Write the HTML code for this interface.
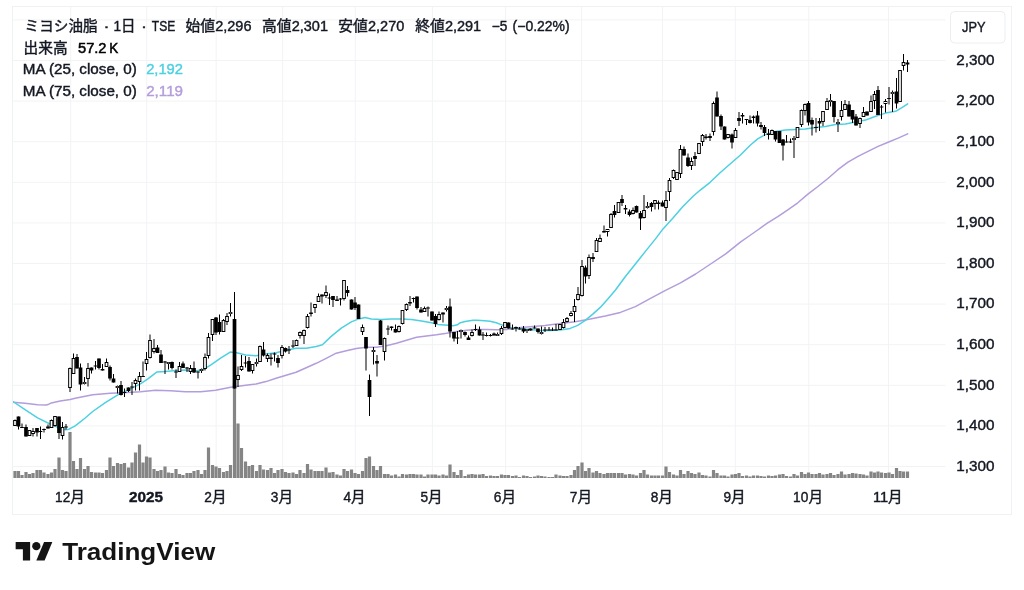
<!DOCTYPE html><html lang="ja"><head><meta charset="utf-8"><title>ミヨシ油脂 · TradingView</title>
<style>html,body{margin:0;padding:0;background:#fff}svg{display:block}text{font-family:"Liberation Sans","Noto Sans CJK JP",sans-serif;fill:#131722;stroke:#131722;stroke-width:.4px;paint-order:stroke}</style></head><body>
<svg width="1024" height="590" viewBox="0 0 1024 590">
<rect width="1024" height="590" fill="#fff"/>
<g stroke="#f2f3f4" stroke-width="1">
<line x1="13" x2="945.5" y1="19.9" y2="19.9"/>
<line x1="13" x2="945.5" y1="60.5" y2="60.5"/>
<line x1="13" x2="945.5" y1="101.1" y2="101.1"/>
<line x1="13" x2="945.5" y1="141.7" y2="141.7"/>
<line x1="13" x2="945.5" y1="182.3" y2="182.3"/>
<line x1="13" x2="945.5" y1="222.9" y2="222.9"/>
<line x1="13" x2="945.5" y1="263.5" y2="263.5"/>
<line x1="13" x2="945.5" y1="304.1" y2="304.1"/>
<line x1="13" x2="945.5" y1="344.7" y2="344.7"/>
<line x1="13" x2="945.5" y1="385.3" y2="385.3"/>
<line x1="13" x2="945.5" y1="425.9" y2="425.9"/>
<line x1="13" x2="945.5" y1="466.5" y2="466.5"/>
<line x1="70.7" x2="70.7" y1="7" y2="478"/>
<line x1="146.7" x2="146.7" y1="7" y2="478"/>
<line x1="216.2" x2="216.2" y1="7" y2="478"/>
<line x1="282.6" x2="282.6" y1="7" y2="478"/>
<line x1="355.3" x2="355.3" y1="7" y2="478"/>
<line x1="432.4" x2="432.4" y1="7" y2="478"/>
<line x1="505.6" x2="505.6" y1="7" y2="478"/>
<line x1="581.6" x2="581.6" y1="7" y2="478"/>
<line x1="662.5" x2="662.5" y1="7" y2="478"/>
<line x1="735.3" x2="735.3" y1="7" y2="478"/>
<line x1="808.8" x2="808.8" y1="7" y2="478"/>
<line x1="888.5" x2="888.5" y1="7" y2="478"/>
</g>
<g fill="#858585">
<rect x="13.40" y="471.0" width="3.2" height="7.0"/>
<rect x="16.90" y="471.0" width="3.2" height="7.0"/>
<rect x="20.40" y="475.0" width="3.2" height="3.0"/>
<rect x="24.40" y="472.0" width="3.2" height="6.0"/>
<rect x="27.90" y="474.0" width="3.2" height="4.0"/>
<rect x="31.40" y="473.0" width="3.2" height="5.0"/>
<rect x="35.40" y="470.0" width="3.2" height="8.0"/>
<rect x="38.90" y="470.0" width="3.2" height="8.0"/>
<rect x="42.40" y="472.5" width="3.2" height="5.5"/>
<rect x="46.40" y="474.0" width="3.2" height="4.0"/>
<rect x="49.90" y="472.5" width="3.2" height="5.5"/>
<rect x="53.40" y="469.0" width="3.2" height="9.0"/>
<rect x="57.40" y="457.5" width="3.2" height="20.5"/>
<rect x="60.90" y="470.0" width="3.2" height="8.0"/>
<rect x="64.40" y="471.0" width="3.2" height="7.0"/>
<rect x="68.40" y="432.0" width="3.2" height="46.0"/>
<rect x="71.90" y="461.0" width="3.2" height="17.0"/>
<rect x="75.40" y="469.0" width="3.2" height="9.0"/>
<rect x="78.90" y="458.0" width="3.2" height="20.0"/>
<rect x="82.90" y="469.0" width="3.2" height="9.0"/>
<rect x="86.40" y="466.0" width="3.2" height="12.0"/>
<rect x="89.90" y="472.0" width="3.2" height="6.0"/>
<rect x="93.90" y="472.5" width="3.2" height="5.5"/>
<rect x="97.40" y="472.5" width="3.2" height="5.5"/>
<rect x="100.90" y="473.0" width="3.2" height="5.0"/>
<rect x="104.90" y="470.0" width="3.2" height="8.0"/>
<rect x="108.40" y="457.5" width="3.2" height="20.5"/>
<rect x="111.90" y="466.0" width="3.2" height="12.0"/>
<rect x="115.90" y="463.0" width="3.2" height="15.0"/>
<rect x="119.40" y="464.0" width="3.2" height="14.0"/>
<rect x="122.90" y="463.0" width="3.2" height="15.0"/>
<rect x="126.90" y="467.5" width="3.2" height="10.5"/>
<rect x="130.40" y="462.5" width="3.2" height="15.5"/>
<rect x="133.90" y="452.5" width="3.2" height="25.5"/>
<rect x="137.90" y="444.5" width="3.2" height="33.5"/>
<rect x="141.40" y="462.5" width="3.2" height="15.5"/>
<rect x="144.90" y="456.5" width="3.2" height="21.5"/>
<rect x="148.40" y="457.5" width="3.2" height="20.5"/>
<rect x="152.40" y="469.0" width="3.2" height="9.0"/>
<rect x="155.90" y="471.0" width="3.2" height="7.0"/>
<rect x="159.40" y="470.0" width="3.2" height="8.0"/>
<rect x="163.40" y="466.5" width="3.2" height="11.5"/>
<rect x="166.90" y="472.5" width="3.2" height="5.5"/>
<rect x="170.40" y="473.0" width="3.2" height="5.0"/>
<rect x="174.40" y="469.0" width="3.2" height="9.0"/>
<rect x="177.90" y="474.0" width="3.2" height="4.0"/>
<rect x="181.40" y="475.0" width="3.2" height="3.0"/>
<rect x="185.40" y="473.0" width="3.2" height="5.0"/>
<rect x="188.90" y="473.0" width="3.2" height="5.0"/>
<rect x="192.40" y="471.0" width="3.2" height="7.0"/>
<rect x="196.40" y="470.0" width="3.2" height="8.0"/>
<rect x="199.90" y="474.0" width="3.2" height="4.0"/>
<rect x="203.40" y="470.0" width="3.2" height="8.0"/>
<rect x="206.90" y="447.5" width="3.2" height="30.5"/>
<rect x="210.90" y="465.0" width="3.2" height="13.0"/>
<rect x="214.40" y="466.5" width="3.2" height="11.5"/>
<rect x="217.90" y="468.0" width="3.2" height="10.0"/>
<rect x="221.90" y="472.0" width="3.2" height="6.0"/>
<rect x="225.40" y="471.0" width="3.2" height="7.0"/>
<rect x="228.90" y="465.0" width="3.2" height="13.0"/>
<rect x="232.90" y="383.0" width="3.2" height="95.0"/>
<rect x="236.40" y="423.5" width="3.2" height="54.5"/>
<rect x="239.90" y="448.0" width="3.2" height="30.0"/>
<rect x="243.90" y="461.5" width="3.2" height="16.5"/>
<rect x="247.40" y="466.0" width="3.2" height="12.0"/>
<rect x="250.90" y="465.0" width="3.2" height="13.0"/>
<rect x="254.90" y="471.0" width="3.2" height="7.0"/>
<rect x="258.40" y="465.0" width="3.2" height="13.0"/>
<rect x="261.90" y="469.5" width="3.2" height="8.5"/>
<rect x="265.90" y="470.0" width="3.2" height="8.0"/>
<rect x="269.40" y="468.0" width="3.2" height="10.0"/>
<rect x="272.90" y="473.0" width="3.2" height="5.0"/>
<rect x="276.40" y="470.0" width="3.2" height="8.0"/>
<rect x="280.40" y="469.0" width="3.2" height="9.0"/>
<rect x="283.90" y="472.0" width="3.2" height="6.0"/>
<rect x="287.40" y="473.0" width="3.2" height="5.0"/>
<rect x="291.40" y="472.5" width="3.2" height="5.5"/>
<rect x="294.90" y="474.0" width="3.2" height="4.0"/>
<rect x="298.40" y="470.0" width="3.2" height="8.0"/>
<rect x="302.40" y="473.0" width="3.2" height="5.0"/>
<rect x="305.90" y="464.0" width="3.2" height="14.0"/>
<rect x="309.40" y="469.5" width="3.2" height="8.5"/>
<rect x="313.40" y="471.0" width="3.2" height="7.0"/>
<rect x="316.90" y="471.0" width="3.2" height="7.0"/>
<rect x="320.40" y="471.0" width="3.2" height="7.0"/>
<rect x="324.40" y="467.5" width="3.2" height="10.5"/>
<rect x="327.90" y="472.5" width="3.2" height="5.5"/>
<rect x="331.40" y="472.0" width="3.2" height="6.0"/>
<rect x="335.40" y="474.5" width="3.2" height="3.5"/>
<rect x="338.90" y="475.5" width="3.2" height="2.5"/>
<rect x="342.40" y="469.0" width="3.2" height="9.0"/>
<rect x="345.90" y="471.0" width="3.2" height="7.0"/>
<rect x="349.90" y="469.5" width="3.2" height="8.5"/>
<rect x="353.40" y="473.0" width="3.2" height="5.0"/>
<rect x="356.90" y="474.0" width="3.2" height="4.0"/>
<rect x="360.90" y="471.0" width="3.2" height="7.0"/>
<rect x="364.40" y="458.0" width="3.2" height="20.0"/>
<rect x="367.90" y="456.5" width="3.2" height="21.5"/>
<rect x="371.90" y="466.0" width="3.2" height="12.0"/>
<rect x="375.40" y="470.0" width="3.2" height="8.0"/>
<rect x="378.90" y="466.0" width="3.2" height="12.0"/>
<rect x="382.90" y="474.0" width="3.2" height="4.0"/>
<rect x="386.40" y="474.0" width="3.2" height="4.0"/>
<rect x="389.90" y="475.5" width="3.2" height="2.5"/>
<rect x="393.90" y="474.5" width="3.2" height="3.5"/>
<rect x="397.40" y="476.5" width="3.2" height="1.5"/>
<rect x="400.90" y="474.0" width="3.2" height="4.0"/>
<rect x="404.90" y="474.5" width="3.2" height="3.5"/>
<rect x="408.40" y="474.0" width="3.2" height="4.0"/>
<rect x="411.90" y="474.0" width="3.2" height="4.0"/>
<rect x="415.40" y="474.5" width="3.2" height="3.5"/>
<rect x="419.40" y="474.5" width="3.2" height="3.5"/>
<rect x="422.90" y="476.5" width="3.2" height="1.5"/>
<rect x="426.40" y="474.5" width="3.2" height="3.5"/>
<rect x="430.40" y="474.5" width="3.2" height="3.5"/>
<rect x="433.90" y="474.5" width="3.2" height="3.5"/>
<rect x="437.40" y="475.5" width="3.2" height="2.5"/>
<rect x="441.40" y="474.5" width="3.2" height="3.5"/>
<rect x="444.90" y="475.5" width="3.2" height="2.5"/>
<rect x="448.40" y="464.5" width="3.2" height="13.5"/>
<rect x="452.40" y="472.0" width="3.2" height="6.0"/>
<rect x="455.90" y="475.0" width="3.2" height="3.0"/>
<rect x="459.40" y="470.0" width="3.2" height="8.0"/>
<rect x="463.40" y="476.0" width="3.2" height="2.0"/>
<rect x="466.90" y="474.5" width="3.2" height="3.5"/>
<rect x="470.40" y="474.0" width="3.2" height="4.0"/>
<rect x="473.90" y="474.5" width="3.2" height="3.5"/>
<rect x="477.90" y="474.5" width="3.2" height="3.5"/>
<rect x="481.40" y="474.0" width="3.2" height="4.0"/>
<rect x="484.90" y="476.0" width="3.2" height="2.0"/>
<rect x="488.90" y="475.5" width="3.2" height="2.5"/>
<rect x="492.40" y="476.0" width="3.2" height="2.0"/>
<rect x="495.90" y="476.0" width="3.2" height="2.0"/>
<rect x="499.90" y="474.5" width="3.2" height="3.5"/>
<rect x="503.40" y="475.0" width="3.2" height="3.0"/>
<rect x="506.90" y="475.0" width="3.2" height="3.0"/>
<rect x="510.90" y="476.0" width="3.2" height="2.0"/>
<rect x="514.40" y="475.5" width="3.2" height="2.5"/>
<rect x="517.90" y="477.0" width="3.2" height="1.0"/>
<rect x="521.90" y="475.5" width="3.2" height="2.5"/>
<rect x="525.40" y="476.0" width="3.2" height="2.0"/>
<rect x="528.90" y="477.0" width="3.2" height="1.0"/>
<rect x="532.90" y="476.5" width="3.2" height="1.5"/>
<rect x="536.40" y="475.5" width="3.2" height="2.5"/>
<rect x="539.90" y="476.0" width="3.2" height="2.0"/>
<rect x="543.40" y="476.5" width="3.2" height="1.5"/>
<rect x="547.40" y="477.0" width="3.2" height="1.0"/>
<rect x="550.90" y="477.0" width="3.2" height="1.0"/>
<rect x="554.40" y="474.5" width="3.2" height="3.5"/>
<rect x="558.40" y="475.5" width="3.2" height="2.5"/>
<rect x="561.90" y="476.0" width="3.2" height="2.0"/>
<rect x="565.40" y="476.0" width="3.2" height="2.0"/>
<rect x="569.40" y="475.0" width="3.2" height="3.0"/>
<rect x="572.90" y="470.0" width="3.2" height="8.0"/>
<rect x="576.40" y="466.0" width="3.2" height="12.0"/>
<rect x="580.40" y="462.5" width="3.2" height="15.5"/>
<rect x="583.90" y="471.0" width="3.2" height="7.0"/>
<rect x="587.40" y="468.0" width="3.2" height="10.0"/>
<rect x="591.40" y="472.5" width="3.2" height="5.5"/>
<rect x="594.90" y="471.0" width="3.2" height="7.0"/>
<rect x="598.40" y="473.0" width="3.2" height="5.0"/>
<rect x="602.40" y="474.0" width="3.2" height="4.0"/>
<rect x="605.90" y="473.0" width="3.2" height="5.0"/>
<rect x="609.40" y="473.0" width="3.2" height="5.0"/>
<rect x="612.90" y="473.0" width="3.2" height="5.0"/>
<rect x="616.90" y="473.0" width="3.2" height="5.0"/>
<rect x="620.40" y="473.0" width="3.2" height="5.0"/>
<rect x="623.90" y="474.5" width="3.2" height="3.5"/>
<rect x="627.90" y="474.0" width="3.2" height="4.0"/>
<rect x="631.40" y="474.5" width="3.2" height="3.5"/>
<rect x="634.90" y="475.5" width="3.2" height="2.5"/>
<rect x="638.90" y="473.0" width="3.2" height="5.0"/>
<rect x="642.40" y="470.0" width="3.2" height="8.0"/>
<rect x="645.90" y="474.5" width="3.2" height="3.5"/>
<rect x="649.90" y="475.5" width="3.2" height="2.5"/>
<rect x="653.40" y="475.5" width="3.2" height="2.5"/>
<rect x="656.90" y="475.5" width="3.2" height="2.5"/>
<rect x="660.90" y="475.5" width="3.2" height="2.5"/>
<rect x="664.40" y="466.5" width="3.2" height="11.5"/>
<rect x="667.90" y="472.0" width="3.2" height="6.0"/>
<rect x="671.90" y="474.5" width="3.2" height="3.5"/>
<rect x="675.40" y="475.5" width="3.2" height="2.5"/>
<rect x="678.90" y="470.0" width="3.2" height="8.0"/>
<rect x="682.40" y="474.0" width="3.2" height="4.0"/>
<rect x="686.40" y="471.0" width="3.2" height="7.0"/>
<rect x="689.90" y="473.0" width="3.2" height="5.0"/>
<rect x="693.40" y="474.0" width="3.2" height="4.0"/>
<rect x="697.40" y="472.5" width="3.2" height="5.5"/>
<rect x="700.90" y="475.0" width="3.2" height="3.0"/>
<rect x="704.40" y="475.5" width="3.2" height="2.5"/>
<rect x="708.40" y="476.5" width="3.2" height="1.5"/>
<rect x="711.90" y="470.0" width="3.2" height="8.0"/>
<rect x="715.40" y="473.0" width="3.2" height="5.0"/>
<rect x="719.40" y="475.5" width="3.2" height="2.5"/>
<rect x="722.90" y="475.5" width="3.2" height="2.5"/>
<rect x="726.40" y="476.5" width="3.2" height="1.5"/>
<rect x="730.40" y="474.5" width="3.2" height="3.5"/>
<rect x="733.90" y="474.0" width="3.2" height="4.0"/>
<rect x="737.40" y="473.0" width="3.2" height="5.0"/>
<rect x="740.90" y="476.0" width="3.2" height="2.0"/>
<rect x="744.90" y="475.5" width="3.2" height="2.5"/>
<rect x="748.40" y="476.5" width="3.2" height="1.5"/>
<rect x="751.90" y="475.5" width="3.2" height="2.5"/>
<rect x="755.90" y="475.5" width="3.2" height="2.5"/>
<rect x="759.40" y="476.0" width="3.2" height="2.0"/>
<rect x="762.90" y="476.5" width="3.2" height="1.5"/>
<rect x="766.90" y="475.5" width="3.2" height="2.5"/>
<rect x="770.40" y="476.0" width="3.2" height="2.0"/>
<rect x="773.90" y="475.5" width="3.2" height="2.5"/>
<rect x="777.90" y="474.5" width="3.2" height="3.5"/>
<rect x="781.40" y="474.0" width="3.2" height="4.0"/>
<rect x="784.90" y="476.0" width="3.2" height="2.0"/>
<rect x="788.90" y="476.5" width="3.2" height="1.5"/>
<rect x="792.40" y="474.0" width="3.2" height="4.0"/>
<rect x="795.90" y="475.5" width="3.2" height="2.5"/>
<rect x="799.90" y="472.0" width="3.2" height="6.0"/>
<rect x="803.40" y="474.0" width="3.2" height="4.0"/>
<rect x="806.90" y="472.5" width="3.2" height="5.5"/>
<rect x="810.40" y="474.0" width="3.2" height="4.0"/>
<rect x="814.40" y="474.0" width="3.2" height="4.0"/>
<rect x="817.90" y="473.0" width="3.2" height="5.0"/>
<rect x="821.40" y="474.5" width="3.2" height="3.5"/>
<rect x="825.40" y="474.0" width="3.2" height="4.0"/>
<rect x="828.90" y="473.0" width="3.2" height="5.0"/>
<rect x="832.40" y="475.0" width="3.2" height="3.0"/>
<rect x="836.40" y="474.0" width="3.2" height="4.0"/>
<rect x="839.90" y="471.5" width="3.2" height="6.5"/>
<rect x="843.40" y="474.5" width="3.2" height="3.5"/>
<rect x="847.40" y="474.0" width="3.2" height="4.0"/>
<rect x="850.90" y="473.0" width="3.2" height="5.0"/>
<rect x="854.40" y="473.5" width="3.2" height="4.5"/>
<rect x="858.40" y="474.0" width="3.2" height="4.0"/>
<rect x="861.90" y="474.5" width="3.2" height="3.5"/>
<rect x="865.40" y="475.5" width="3.2" height="2.5"/>
<rect x="869.40" y="471.5" width="3.2" height="6.5"/>
<rect x="872.90" y="472.5" width="3.2" height="5.5"/>
<rect x="876.40" y="471.5" width="3.2" height="6.5"/>
<rect x="879.90" y="472.5" width="3.2" height="5.5"/>
<rect x="883.90" y="473.0" width="3.2" height="5.0"/>
<rect x="887.40" y="472.5" width="3.2" height="5.5"/>
<rect x="890.90" y="474.0" width="3.2" height="4.0"/>
<rect x="894.90" y="468.0" width="3.2" height="10.0"/>
<rect x="898.40" y="471.0" width="3.2" height="7.0"/>
<rect x="901.90" y="471.5" width="3.2" height="6.5"/>
<rect x="905.90" y="471.5" width="3.2" height="6.5"/>
</g>
<polyline fill="none" stroke="#b39ddb" stroke-width="1.5" stroke-linejoin="round" stroke-linecap="round" points="13.0,402.2 25.0,403.2 37.6,404.7 46.3,405.0 48.8,404.2 51.4,402.9 60.2,401.0 70.2,399.4 75.2,398.2 92.7,394.7 110.3,393.2 122.8,392.7 140.4,391.7 155.4,390.2 170.5,390.7 185.5,391.7 200.6,391.7 215.6,390.2 230.7,387.2 245.7,385.2 256.0,384.0 266.0,381.6 276.1,378.3 286.1,375.3 296.1,372.3 306.2,367.8 316.2,363.3 326.2,358.3 336.2,353.2 346.3,350.7 356.3,348.5 366.3,347.2 376.4,347.2 386.4,345.7 396.4,343.2 406.5,340.2 416.5,337.2 426.5,335.9 436.5,334.7 446.6,333.2 456.6,331.4 466.6,330.2 476.7,329.4 486.7,329.4 496.7,329.7 506.8,329.4 515.0,327.9 530.1,326.7 545.1,325.4 560.2,323.4 575.2,321.7 590.3,319.1 605.3,316.1 620.4,312.4 635.4,306.6 650.5,298.3 665.5,290.3 680.5,282.8 695.6,274.0 710.6,264.0 725.7,253.9 740.7,241.9 747.7,237.0 757.7,230.0 767.7,222.9 777.8,216.6 787.8,209.9 797.8,202.8 807.9,194.1 817.9,186.5 827.9,178.5 837.9,169.7 848.0,162.2 858.0,156.4 868.0,151.4 878.1,146.4 888.1,142.2 898.1,138.1 907.7,133.9"/>
<polyline fill="none" stroke="#4dd0e1" stroke-width="1.5" stroke-linejoin="round" stroke-linecap="round" points="13.0,401.5 25.0,409.7 37.6,417.8 50.1,424.0 60.2,428.3 65.5,429.8 69.0,429.2 75.2,425.8 85.2,418.0 92.7,411.5 105.3,402.7 117.8,394.9 130.4,388.9 140.4,383.9 147.9,378.9 156.7,372.1 165.5,371.4 175.5,370.6 185.5,370.1 195.6,370.9 203.1,369.6 210.6,365.1 220.6,358.1 230.2,352.1 235.7,352.6 245.7,355.1 256.0,355.8 266.0,354.0 276.1,352.7 286.1,350.2 296.1,348.2 306.2,348.2 316.2,346.5 322.4,344.7 331.2,336.4 341.3,328.2 351.3,321.9 358.8,318.9 365.1,317.6 371.3,318.9 381.4,319.6 391.4,318.9 401.4,318.9 411.5,319.4 421.5,320.9 431.5,322.7 437.7,324.4 447.9,325.2 453.3,325.8 457.2,324.8 460.4,322.7 465.1,321.5 472.9,320.3 476.8,320.2 484.6,320.7 490.1,321.2 496.3,322.8 501.0,324.6 504.1,325.8 510.0,327.4 520.1,328.4 530.1,329.4 540.1,330.4 550.2,330.4 560.2,329.9 570.2,328.4 577.7,325.4 585.3,320.4 592.8,314.1 600.3,307.4 607.8,299.1 615.3,290.3 625.4,276.5 635.4,264.0 645.4,251.4 655.5,238.9 663.0,228.9 673.0,218.1 683.1,206.3 693.1,196.3 700.0,190.3 710.1,182.3 720.1,172.7 730.1,164.0 740.2,155.2 750.2,145.2 757.7,138.9 765.2,134.6 775.3,131.4 785.3,130.1 795.3,129.6 805.3,128.9 815.4,127.6 825.4,126.4 835.4,124.6 845.5,123.9 855.5,122.1 865.5,120.1 875.6,116.3 885.6,113.1 895.6,111.3 901.9,107.6 907.7,103.8"/>
<g>
<rect x="14.50" y="419.5" width="1" height="0.5"/>
<rect x="13.65" y="420.5" width="2.7" height="5.0" fill="#fff" stroke="#000"/>
<rect x="18.00" y="416.5" width="1" height="13.0"/>
<rect x="16.65" y="416.5" width="3.7" height="10.0"/>
<rect x="21.50" y="423.5" width="1" height="4.5"/>
<rect x="20.15" y="427.0" width="3.7" height="1.0"/>
<rect x="25.50" y="424.5" width="1" height="12.0"/>
<rect x="24.15" y="427.0" width="3.7" height="9.5"/>
<rect x="28.15" y="430.5" width="2.7" height="5.0" fill="#fff" stroke="#000"/>
<rect x="32.50" y="428.0" width="1" height="3.0"/>
<rect x="32.50" y="434.0" width="1" height="2.5"/>
<rect x="31.65" y="431.5" width="2.7" height="2.0" fill="#fff" stroke="#000"/>
<rect x="36.50" y="428.0" width="1" height="8.5"/>
<rect x="35.15" y="428.0" width="3.7" height="4.5"/>
<rect x="40.00" y="426.5" width="1" height="4.5"/>
<rect x="40.00" y="432.0" width="1" height="7.0"/>
<rect x="38.65" y="431.0" width="3.7" height="1.0"/>
<rect x="43.50" y="428.5" width="1" height="0.5"/>
<rect x="43.50" y="430.0" width="1" height="2.5"/>
<rect x="42.15" y="429.0" width="3.7" height="1.0"/>
<rect x="47.50" y="424.5" width="1" height="4.0"/>
<rect x="46.15" y="426.5" width="3.7" height="2.0"/>
<rect x="51.00" y="419.5" width="1" height="0.5"/>
<rect x="50.15" y="420.5" width="2.7" height="7.0" fill="#fff" stroke="#000"/>
<rect x="54.50" y="426.0" width="1" height="0.5"/>
<rect x="53.65" y="416.5" width="2.7" height="9.0" fill="#fff" stroke="#000"/>
<rect x="58.50" y="416.5" width="1" height="22.5"/>
<rect x="57.15" y="416.5" width="3.7" height="16.5"/>
<rect x="62.00" y="422.0" width="1" height="5.0"/>
<rect x="62.00" y="436.0" width="1" height="3.5"/>
<rect x="61.15" y="427.5" width="2.7" height="8.0" fill="#fff" stroke="#000"/>
<rect x="65.50" y="424.0" width="1" height="5.5"/>
<rect x="64.15" y="426.5" width="3.7" height="1.0"/>
<rect x="69.50" y="367.5" width="1" height="0.5"/>
<rect x="69.50" y="388.0" width="1" height="4.0"/>
<rect x="68.65" y="368.5" width="2.7" height="19.0" fill="#fff" stroke="#000"/>
<rect x="73.00" y="353.5" width="1" height="4.5"/>
<rect x="72.15" y="358.5" width="2.7" height="15.0" fill="#fff" stroke="#000"/>
<rect x="76.50" y="354.0" width="1" height="14.5"/>
<rect x="75.15" y="357.0" width="3.7" height="11.5"/>
<rect x="80.00" y="363.5" width="1" height="27.0"/>
<rect x="78.65" y="367.5" width="3.7" height="17.0"/>
<rect x="84.00" y="377.0" width="1" height="5.0"/>
<rect x="84.00" y="384.0" width="1" height="0.5"/>
<rect x="82.65" y="382.0" width="3.7" height="2"/>
<rect x="83.65" y="382.5" width="1.7" height="1" fill="#aaa"/>
<rect x="87.50" y="363.0" width="1" height="5.0"/>
<rect x="87.50" y="379.0" width="1" height="7.5"/>
<rect x="86.65" y="368.5" width="2.7" height="10.0" fill="#fff" stroke="#000"/>
<rect x="91.00" y="367.5" width="1" height="6.0"/>
<rect x="89.65" y="367.5" width="3.7" height="3.0"/>
<rect x="95.00" y="361.0" width="1" height="8.5"/>
<rect x="93.65" y="365.5" width="3.7" height="1.0"/>
<rect x="98.50" y="358.5" width="1" height="11.0"/>
<rect x="97.15" y="358.5" width="3.7" height="9.5"/>
<rect x="102.00" y="364.0" width="1" height="6.5"/>
<rect x="100.65" y="369.0" width="3.7" height="1.5"/>
<rect x="106.00" y="358.5" width="1" height="3.5"/>
<rect x="105.15" y="362.5" width="2.7" height="4.0" fill="#fff" stroke="#000"/>
<rect x="109.50" y="365.5" width="1" height="15.0"/>
<rect x="108.15" y="367.0" width="3.7" height="11.5"/>
<rect x="113.00" y="374.0" width="1" height="8.5"/>
<rect x="111.65" y="378.5" width="3.7" height="4.0"/>
<rect x="117.00" y="385.5" width="1" height="0.5"/>
<rect x="117.00" y="388.0" width="1" height="5.5"/>
<rect x="115.65" y="386.0" width="3.7" height="2"/>
<rect x="116.65" y="386.5" width="1.7" height="1" fill="#aaa"/>
<rect x="120.50" y="381.0" width="1" height="14.5"/>
<rect x="119.15" y="385.0" width="3.7" height="10.0"/>
<rect x="124.00" y="388.5" width="1" height="8.5"/>
<rect x="122.65" y="392.0" width="3.7" height="1.0"/>
<rect x="128.00" y="387.5" width="1" height="4.5"/>
<rect x="126.65" y="387.5" width="3.7" height="3.5"/>
<rect x="131.50" y="382.0" width="1" height="13.0"/>
<rect x="130.15" y="386.5" width="3.7" height="1.0"/>
<rect x="135.00" y="378.5" width="1" height="1.5"/>
<rect x="135.00" y="384.0" width="1" height="6.5"/>
<rect x="134.15" y="380.5" width="2.7" height="3.0" fill="#fff" stroke="#000"/>
<rect x="139.00" y="372.0" width="1" height="4.0"/>
<rect x="139.00" y="382.0" width="1" height="8.5"/>
<rect x="138.15" y="376.5" width="2.7" height="5.0" fill="#fff" stroke="#000"/>
<rect x="142.50" y="361.5" width="1" height="14.5"/>
<rect x="141.15" y="376.0" width="3.7" height="1.0"/>
<rect x="146.00" y="352.0" width="1" height="7.0"/>
<rect x="146.00" y="364.0" width="1" height="6.5"/>
<rect x="145.15" y="359.5" width="2.7" height="4.0" fill="#fff" stroke="#000"/>
<rect x="149.50" y="334.5" width="1" height="5.5"/>
<rect x="149.50" y="358.0" width="1" height="0.5"/>
<rect x="148.65" y="340.5" width="2.7" height="17.0" fill="#fff" stroke="#000"/>
<rect x="153.50" y="339.0" width="1" height="9.0"/>
<rect x="153.50" y="352.0" width="1" height="1.5"/>
<rect x="152.65" y="348.5" width="2.7" height="3.0" fill="#fff" stroke="#000"/>
<rect x="157.00" y="345.0" width="1" height="8.0"/>
<rect x="155.65" y="347.5" width="3.7" height="5.5"/>
<rect x="160.50" y="350.0" width="1" height="13.0"/>
<rect x="159.15" y="354.5" width="3.7" height="8.5"/>
<rect x="164.50" y="361.0" width="1" height="13.0"/>
<rect x="163.15" y="361.5" width="3.7" height="1.0"/>
<rect x="168.00" y="364.0" width="1" height="5.5"/>
<rect x="166.65" y="362.0" width="3.7" height="2"/>
<rect x="167.65" y="362.5" width="1.7" height="1" fill="#aaa"/>
<rect x="171.50" y="361.5" width="1" height="8.0"/>
<rect x="170.15" y="362.0" width="3.7" height="6.0"/>
<rect x="175.50" y="369.5" width="1" height="8.5"/>
<rect x="174.15" y="371.5" width="3.7" height="1.0"/>
<rect x="179.00" y="362.0" width="1" height="4.0"/>
<rect x="178.15" y="366.5" width="2.7" height="5.0" fill="#fff" stroke="#000"/>
<rect x="182.50" y="361.5" width="1" height="6.5"/>
<rect x="181.15" y="363.5" width="3.7" height="4.5"/>
<rect x="186.50" y="367.0" width="1" height="5.0"/>
<rect x="185.15" y="367.5" width="3.7" height="1.0"/>
<rect x="190.00" y="365.0" width="1" height="3.0"/>
<rect x="190.00" y="372.0" width="1" height="2.0"/>
<rect x="189.15" y="368.5" width="2.7" height="3.0" fill="#fff" stroke="#000"/>
<rect x="193.50" y="361.5" width="1" height="11.5"/>
<rect x="192.15" y="368.0" width="3.7" height="4.5"/>
<rect x="197.50" y="371.5" width="1" height="7.0"/>
<rect x="196.15" y="371.5" width="3.7" height="1.0"/>
<rect x="201.00" y="368.5" width="1" height="0.5"/>
<rect x="201.00" y="371.0" width="1" height="2.0"/>
<rect x="199.65" y="369.0" width="3.7" height="2"/>
<rect x="200.65" y="369.5" width="1.7" height="1" fill="#aaa"/>
<rect x="204.50" y="353.5" width="1" height="3.5"/>
<rect x="204.50" y="369.0" width="1" height="1.5"/>
<rect x="203.65" y="357.5" width="2.7" height="11.0" fill="#fff" stroke="#000"/>
<rect x="208.00" y="333.0" width="1" height="4.0"/>
<rect x="208.00" y="356.0" width="1" height="2.5"/>
<rect x="207.15" y="337.5" width="2.7" height="18.0" fill="#fff" stroke="#000"/>
<rect x="212.00" y="335.0" width="1" height="6.0"/>
<rect x="211.15" y="319.5" width="2.7" height="15.0" fill="#fff" stroke="#000"/>
<rect x="215.50" y="317.0" width="1" height="18.0"/>
<rect x="214.15" y="317.5" width="3.7" height="15.0"/>
<rect x="219.00" y="314.5" width="1" height="20.0"/>
<rect x="217.65" y="322.0" width="3.7" height="10.0"/>
<rect x="223.00" y="319.0" width="1" height="1.0"/>
<rect x="222.15" y="320.5" width="2.7" height="11.0" fill="#fff" stroke="#000"/>
<rect x="226.50" y="313.0" width="1" height="3.0"/>
<rect x="226.50" y="322.0" width="1" height="3.0"/>
<rect x="225.65" y="316.5" width="2.7" height="5.0" fill="#fff" stroke="#000"/>
<rect x="230.00" y="303.0" width="1" height="9.0"/>
<rect x="230.00" y="314.0" width="1" height="2.5"/>
<rect x="228.65" y="312.0" width="3.7" height="2"/>
<rect x="229.65" y="312.5" width="1.7" height="1" fill="#aaa"/>
<rect x="234.00" y="292.0" width="1" height="96.5"/>
<rect x="232.65" y="319.0" width="3.7" height="69.5"/>
<rect x="237.50" y="366.5" width="1" height="8.5"/>
<rect x="237.50" y="380.0" width="1" height="7.0"/>
<rect x="236.65" y="375.5" width="2.7" height="4.0" fill="#fff" stroke="#000"/>
<rect x="241.00" y="355.0" width="1" height="11.0"/>
<rect x="241.00" y="370.0" width="1" height="1.0"/>
<rect x="240.15" y="366.5" width="2.7" height="3.0" fill="#fff" stroke="#000"/>
<rect x="245.00" y="356.0" width="1" height="11.5"/>
<rect x="243.65" y="362.5" width="3.7" height="1.0"/>
<rect x="248.50" y="357.0" width="1" height="14.5"/>
<rect x="247.15" y="361.0" width="3.7" height="10.5"/>
<rect x="252.00" y="371.0" width="1" height="2.5"/>
<rect x="251.15" y="364.5" width="2.7" height="6.0" fill="#fff" stroke="#000"/>
<rect x="256.00" y="358.5" width="1" height="3.5"/>
<rect x="256.00" y="364.0" width="1" height="2.5"/>
<rect x="254.65" y="362.0" width="3.7" height="2"/>
<rect x="255.65" y="362.5" width="1.7" height="1" fill="#aaa"/>
<rect x="259.50" y="345.5" width="1" height="0.5"/>
<rect x="258.65" y="346.5" width="2.7" height="15.0" fill="#fff" stroke="#000"/>
<rect x="263.00" y="342.0" width="1" height="14.5"/>
<rect x="261.65" y="349.5" width="3.7" height="6.0"/>
<rect x="267.00" y="353.5" width="1" height="1.5"/>
<rect x="267.00" y="359.0" width="1" height="3.0"/>
<rect x="266.15" y="355.5" width="2.7" height="3.0" fill="#fff" stroke="#000"/>
<rect x="270.50" y="353.5" width="1" height="12.0"/>
<rect x="269.15" y="357.5" width="3.7" height="1.5"/>
<rect x="274.00" y="352.5" width="1" height="9.0"/>
<rect x="272.65" y="353.5" width="3.7" height="1.0"/>
<rect x="277.50" y="355.0" width="1" height="12.5"/>
<rect x="276.15" y="358.0" width="3.7" height="5.0"/>
<rect x="281.50" y="345.0" width="1" height="2.0"/>
<rect x="281.50" y="356.0" width="1" height="2.5"/>
<rect x="280.65" y="347.5" width="2.7" height="8.0" fill="#fff" stroke="#000"/>
<rect x="285.00" y="347.5" width="1" height="5.0"/>
<rect x="283.65" y="348.0" width="3.7" height="3.5"/>
<rect x="288.50" y="346.0" width="1" height="8.0"/>
<rect x="287.15" y="349.5" width="3.7" height="1.0"/>
<rect x="292.50" y="340.0" width="1" height="8.0"/>
<rect x="291.15" y="345.5" width="3.7" height="1.0"/>
<rect x="296.00" y="339.5" width="1" height="0.5"/>
<rect x="295.15" y="340.5" width="2.7" height="5.0" fill="#fff" stroke="#000"/>
<rect x="299.50" y="331.5" width="1" height="0.5"/>
<rect x="299.50" y="336.0" width="1" height="2.5"/>
<rect x="298.65" y="332.5" width="2.7" height="3.0" fill="#fff" stroke="#000"/>
<rect x="303.50" y="329.5" width="1" height="0.5"/>
<rect x="303.50" y="336.0" width="1" height="8.0"/>
<rect x="302.65" y="330.5" width="2.7" height="5.0" fill="#fff" stroke="#000"/>
<rect x="307.00" y="314.0" width="1" height="2.0"/>
<rect x="307.00" y="328.0" width="1" height="0.5"/>
<rect x="306.15" y="316.5" width="2.7" height="11.0" fill="#fff" stroke="#000"/>
<rect x="310.50" y="302.5" width="1" height="14.0"/>
<rect x="309.15" y="312.5" width="3.7" height="1.5"/>
<rect x="314.50" y="308.0" width="1" height="5.0"/>
<rect x="313.65" y="304.5" width="2.7" height="3.0" fill="#fff" stroke="#000"/>
<rect x="318.00" y="293.5" width="1" height="2.5"/>
<rect x="317.15" y="296.5" width="2.7" height="5.0" fill="#fff" stroke="#000"/>
<rect x="321.50" y="294.5" width="1" height="9.0"/>
<rect x="320.15" y="294.5" width="3.7" height="2.0"/>
<rect x="325.50" y="285.5" width="1" height="6.5"/>
<rect x="325.50" y="296.0" width="1" height="2.0"/>
<rect x="324.65" y="292.5" width="2.7" height="3.0" fill="#fff" stroke="#000"/>
<rect x="329.00" y="293.5" width="1" height="11.5"/>
<rect x="327.65" y="297.5" width="3.7" height="1.0"/>
<rect x="332.50" y="296.0" width="1" height="11.0"/>
<rect x="331.15" y="296.0" width="3.7" height="4.0"/>
<rect x="336.50" y="296.0" width="1" height="5.0"/>
<rect x="335.15" y="299.5" width="3.7" height="1.5"/>
<rect x="340.00" y="298.0" width="1" height="7.5"/>
<rect x="338.65" y="298.5" width="3.7" height="1.0"/>
<rect x="343.50" y="299.0" width="1" height="1.5"/>
<rect x="342.65" y="280.5" width="2.7" height="18.0" fill="#fff" stroke="#000"/>
<rect x="347.00" y="286.0" width="1" height="10.5"/>
<rect x="345.65" y="290.0" width="3.7" height="3.0"/>
<rect x="351.00" y="299.5" width="1" height="10.0"/>
<rect x="349.65" y="299.5" width="3.7" height="10.0"/>
<rect x="354.50" y="297.0" width="1" height="13.0"/>
<rect x="353.15" y="302.5" width="3.7" height="5.5"/>
<rect x="358.00" y="304.5" width="1" height="14.5"/>
<rect x="356.65" y="304.5" width="3.7" height="14.5"/>
<rect x="362.00" y="324.5" width="1" height="2.5"/>
<rect x="362.00" y="332.0" width="1" height="3.0"/>
<rect x="361.15" y="327.5" width="2.7" height="4.0" fill="#fff" stroke="#000"/>
<rect x="365.50" y="337.0" width="1" height="33.5"/>
<rect x="364.15" y="337.0" width="3.7" height="11.5"/>
<rect x="369.00" y="374.5" width="1" height="41.5"/>
<rect x="367.65" y="380.0" width="3.7" height="17.0"/>
<rect x="373.00" y="347.0" width="1" height="3.0"/>
<rect x="373.00" y="352.0" width="1" height="12.5"/>
<rect x="371.65" y="350.0" width="3.7" height="2"/>
<rect x="372.65" y="350.5" width="1.7" height="1" fill="#aaa"/>
<rect x="376.50" y="355.0" width="1" height="21.5"/>
<rect x="375.15" y="361.0" width="3.7" height="2.5"/>
<rect x="380.00" y="320.0" width="1" height="25.0"/>
<rect x="378.65" y="320.5" width="3.7" height="24.5"/>
<rect x="384.00" y="337.5" width="1" height="0.5"/>
<rect x="384.00" y="352.0" width="1" height="8.5"/>
<rect x="383.15" y="338.5" width="2.7" height="13.0" fill="#fff" stroke="#000"/>
<rect x="387.50" y="325.5" width="1" height="9.5"/>
<rect x="386.15" y="328.5" width="3.7" height="1.0"/>
<rect x="391.00" y="326.5" width="1" height="4.0"/>
<rect x="389.65" y="326.5" width="3.7" height="1.5"/>
<rect x="395.00" y="324.5" width="1" height="8.0"/>
<rect x="393.65" y="329.0" width="3.7" height="3.5"/>
<rect x="398.50" y="325.5" width="1" height="0.5"/>
<rect x="398.50" y="332.0" width="1" height="0.5"/>
<rect x="397.65" y="326.5" width="2.7" height="5.0" fill="#fff" stroke="#000"/>
<rect x="402.00" y="324.0" width="1" height="0.5"/>
<rect x="401.15" y="310.5" width="2.7" height="13.0" fill="#fff" stroke="#000"/>
<rect x="406.00" y="303.5" width="1" height="0.5"/>
<rect x="406.00" y="310.0" width="1" height="1.0"/>
<rect x="405.15" y="304.5" width="2.7" height="5.0" fill="#fff" stroke="#000"/>
<rect x="409.50" y="296.0" width="1" height="10.0"/>
<rect x="408.15" y="302.0" width="3.7" height="1.5"/>
<rect x="413.00" y="297.5" width="1" height="0.5"/>
<rect x="413.00" y="299.0" width="1" height="3.5"/>
<rect x="411.65" y="298.0" width="3.7" height="1.0"/>
<rect x="416.50" y="296.5" width="1" height="13.0"/>
<rect x="415.15" y="296.5" width="3.7" height="11.5"/>
<rect x="420.50" y="307.0" width="1" height="5.5"/>
<rect x="419.15" y="309.5" width="3.7" height="3.0"/>
<rect x="424.00" y="306.5" width="1" height="1.5"/>
<rect x="423.15" y="308.5" width="2.7" height="3.0" fill="#fff" stroke="#000"/>
<rect x="427.50" y="306.5" width="1" height="10.0"/>
<rect x="426.15" y="307.5" width="3.7" height="1.0"/>
<rect x="431.50" y="311.5" width="1" height="9.0"/>
<rect x="430.15" y="311.5" width="3.7" height="9.0"/>
<rect x="435.00" y="314.0" width="1" height="13.0"/>
<rect x="433.65" y="316.0" width="3.7" height="8.0"/>
<rect x="438.50" y="311.5" width="1" height="2.5"/>
<rect x="438.50" y="320.0" width="1" height="0.5"/>
<rect x="437.65" y="314.5" width="2.7" height="5.0" fill="#fff" stroke="#000"/>
<rect x="442.50" y="312.5" width="1" height="10.0"/>
<rect x="441.15" y="312.5" width="3.7" height="2.0"/>
<rect x="446.00" y="306.0" width="1" height="2.0"/>
<rect x="446.00" y="310.0" width="1" height="1.5"/>
<rect x="444.65" y="308.0" width="3.7" height="2"/>
<rect x="445.65" y="308.5" width="1.7" height="1" fill="#aaa"/>
<rect x="449.50" y="298.5" width="1" height="39.0"/>
<rect x="448.15" y="306.5" width="3.7" height="25.0"/>
<rect x="453.50" y="332.0" width="1" height="9.5"/>
<rect x="452.15" y="332.0" width="3.7" height="6.5"/>
<rect x="457.00" y="331.0" width="1" height="13.0"/>
<rect x="455.65" y="337.5" width="3.7" height="1.0"/>
<rect x="460.50" y="329.5" width="1" height="0.5"/>
<rect x="460.50" y="332.0" width="1" height="6.5"/>
<rect x="459.15" y="330.0" width="3.7" height="2"/>
<rect x="460.15" y="330.5" width="1.7" height="1" fill="#aaa"/>
<rect x="464.50" y="331.5" width="1" height="5.0"/>
<rect x="463.15" y="332.0" width="3.7" height="3.0"/>
<rect x="468.00" y="335.5" width="1" height="4.5"/>
<rect x="466.65" y="337.5" width="3.7" height="2.5"/>
<rect x="471.50" y="329.5" width="1" height="2.5"/>
<rect x="471.50" y="336.0" width="1" height="0.5"/>
<rect x="470.65" y="332.5" width="2.7" height="3.0" fill="#fff" stroke="#000"/>
<rect x="475.00" y="324.5" width="1" height="4.5"/>
<rect x="475.00" y="330.0" width="1" height="1.0"/>
<rect x="473.65" y="329.0" width="3.7" height="1.0"/>
<rect x="479.00" y="326.5" width="1" height="9.0"/>
<rect x="477.65" y="329.5" width="3.7" height="6.0"/>
<rect x="482.50" y="332.0" width="1" height="8.0"/>
<rect x="481.15" y="334.5" width="3.7" height="1.0"/>
<rect x="486.00" y="332.5" width="1" height="4.0"/>
<rect x="484.65" y="335.0" width="3.7" height="1.0"/>
<rect x="490.00" y="334.0" width="1" height="2.5"/>
<rect x="488.65" y="335.0" width="3.7" height="1.0"/>
<rect x="493.50" y="332.5" width="1" height="3.0"/>
<rect x="492.15" y="333.5" width="3.7" height="2.0"/>
<rect x="497.00" y="332.5" width="1" height="1.5"/>
<rect x="495.65" y="334.0" width="3.7" height="2"/>
<rect x="496.65" y="334.5" width="1.7" height="1" fill="#aaa"/>
<rect x="501.00" y="326.0" width="1" height="2.0"/>
<rect x="501.00" y="334.0" width="1" height="1.0"/>
<rect x="500.15" y="328.5" width="2.7" height="5.0" fill="#fff" stroke="#000"/>
<rect x="504.50" y="328.0" width="1" height="0.5"/>
<rect x="503.65" y="322.5" width="2.7" height="5.0" fill="#fff" stroke="#000"/>
<rect x="508.00" y="322.5" width="1" height="6.0"/>
<rect x="506.65" y="322.5" width="3.7" height="6.0"/>
<rect x="512.00" y="324.5" width="1" height="5.0"/>
<rect x="510.65" y="328.5" width="3.7" height="1.0"/>
<rect x="515.50" y="326.5" width="1" height="5.0"/>
<rect x="514.15" y="327.0" width="3.7" height="1.5"/>
<rect x="519.00" y="327.0" width="1" height="2.5"/>
<rect x="517.65" y="328.5" width="3.7" height="1.0"/>
<rect x="523.00" y="326.0" width="1" height="7.0"/>
<rect x="521.65" y="328.5" width="3.7" height="3.0"/>
<rect x="526.50" y="331.0" width="1" height="2.0"/>
<rect x="525.15" y="329.0" width="3.7" height="2"/>
<rect x="526.15" y="329.5" width="1.7" height="1" fill="#aaa"/>
<rect x="530.00" y="328.5" width="1" height="2.0"/>
<rect x="528.65" y="328.5" width="3.7" height="2.0"/>
<rect x="534.00" y="325.5" width="1" height="3.0"/>
<rect x="532.65" y="327.5" width="3.7" height="1.0"/>
<rect x="537.50" y="328.5" width="1" height="5.0"/>
<rect x="536.15" y="328.5" width="3.7" height="3.5"/>
<rect x="541.00" y="326.5" width="1" height="5.5"/>
<rect x="541.00" y="334.0" width="1" height="0.5"/>
<rect x="539.65" y="332.0" width="3.7" height="2"/>
<rect x="540.65" y="332.5" width="1.7" height="1" fill="#aaa"/>
<rect x="544.50" y="327.0" width="1" height="5.0"/>
<rect x="543.15" y="329.5" width="3.7" height="1.0"/>
<rect x="548.50" y="327.0" width="1" height="3.5"/>
<rect x="547.15" y="329.5" width="3.7" height="1.0"/>
<rect x="552.00" y="327.5" width="1" height="3.5"/>
<rect x="550.65" y="329.5" width="3.7" height="1.0"/>
<rect x="555.50" y="324.0" width="1" height="6.5"/>
<rect x="554.15" y="329.5" width="3.7" height="1.0"/>
<rect x="558.65" y="324.5" width="2.7" height="5.0" fill="#fff" stroke="#000"/>
<rect x="563.00" y="319.0" width="1" height="3.0"/>
<rect x="563.00" y="328.0" width="1" height="0.5"/>
<rect x="562.15" y="322.5" width="2.7" height="5.0" fill="#fff" stroke="#000"/>
<rect x="566.50" y="317.0" width="1" height="1.0"/>
<rect x="566.50" y="322.0" width="1" height="0.5"/>
<rect x="565.65" y="318.5" width="2.7" height="3.0" fill="#fff" stroke="#000"/>
<rect x="570.50" y="311.0" width="1" height="2.0"/>
<rect x="570.50" y="316.0" width="1" height="0.5"/>
<rect x="569.65" y="313.5" width="2.7" height="2.0" fill="#fff" stroke="#000"/>
<rect x="574.00" y="299.0" width="1" height="7.0"/>
<rect x="574.00" y="312.0" width="1" height="10.0"/>
<rect x="573.15" y="306.5" width="2.7" height="5.0" fill="#fff" stroke="#000"/>
<rect x="577.50" y="287.0" width="1" height="7.0"/>
<rect x="577.50" y="300.0" width="1" height="0.5"/>
<rect x="576.65" y="294.5" width="2.7" height="5.0" fill="#fff" stroke="#000"/>
<rect x="581.50" y="260.0" width="1" height="6.0"/>
<rect x="581.50" y="296.0" width="1" height="0.5"/>
<rect x="580.65" y="266.5" width="2.7" height="29.0" fill="#fff" stroke="#000"/>
<rect x="585.00" y="265.5" width="1" height="18.0"/>
<rect x="583.65" y="267.5" width="3.7" height="9.0"/>
<rect x="588.50" y="254.5" width="1" height="2.5"/>
<rect x="588.50" y="276.0" width="1" height="3.0"/>
<rect x="587.65" y="257.5" width="2.7" height="18.0" fill="#fff" stroke="#000"/>
<rect x="592.50" y="253.0" width="1" height="9.0"/>
<rect x="591.15" y="257.0" width="3.7" height="2.0"/>
<rect x="596.00" y="238.0" width="1" height="2.0"/>
<rect x="595.15" y="240.5" width="2.7" height="11.0" fill="#fff" stroke="#000"/>
<rect x="599.50" y="234.5" width="1" height="3.5"/>
<rect x="598.65" y="238.5" width="2.7" height="3.0" fill="#fff" stroke="#000"/>
<rect x="603.50" y="225.5" width="1" height="7.0"/>
<rect x="602.15" y="231.0" width="3.7" height="1.5"/>
<rect x="607.00" y="232.0" width="1" height="4.5"/>
<rect x="606.15" y="229.5" width="2.7" height="2.0" fill="#fff" stroke="#000"/>
<rect x="610.50" y="213.0" width="1" height="1.0"/>
<rect x="609.65" y="214.5" width="2.7" height="13.0" fill="#fff" stroke="#000"/>
<rect x="614.00" y="205.0" width="1" height="12.5"/>
<rect x="612.65" y="211.0" width="3.7" height="4.0"/>
<rect x="617.15" y="202.5" width="2.7" height="10.0" fill="#fff" stroke="#000"/>
<rect x="621.50" y="195.0" width="1" height="11.0"/>
<rect x="620.15" y="199.0" width="3.7" height="4.0"/>
<rect x="625.00" y="205.0" width="1" height="9.0"/>
<rect x="623.65" y="208.0" width="3.7" height="1.5"/>
<rect x="629.00" y="209.5" width="1" height="7.0"/>
<rect x="627.65" y="211.5" width="3.7" height="3.5"/>
<rect x="632.50" y="207.5" width="1" height="2.5"/>
<rect x="632.50" y="214.0" width="1" height="0.5"/>
<rect x="631.65" y="210.5" width="2.7" height="3.0" fill="#fff" stroke="#000"/>
<rect x="636.00" y="205.5" width="1" height="7.0"/>
<rect x="634.65" y="206.0" width="3.7" height="6.5"/>
<rect x="640.00" y="211.0" width="1" height="19.0"/>
<rect x="638.65" y="213.0" width="3.7" height="5.5"/>
<rect x="643.50" y="195.0" width="1" height="15.0"/>
<rect x="643.50" y="218.0" width="1" height="0.5"/>
<rect x="642.65" y="210.5" width="2.7" height="7.0" fill="#fff" stroke="#000"/>
<rect x="647.00" y="202.0" width="1" height="4.0"/>
<rect x="647.00" y="208.0" width="1" height="0.5"/>
<rect x="645.65" y="206.0" width="3.7" height="2"/>
<rect x="646.65" y="206.5" width="1.7" height="1" fill="#aaa"/>
<rect x="651.00" y="202.0" width="1" height="9.5"/>
<rect x="649.65" y="203.0" width="3.7" height="4.0"/>
<rect x="654.50" y="204.0" width="1" height="5.5"/>
<rect x="653.65" y="200.5" width="2.7" height="3.0" fill="#fff" stroke="#000"/>
<rect x="658.00" y="200.5" width="1" height="9.0"/>
<rect x="656.65" y="202.5" width="3.7" height="1.5"/>
<rect x="662.00" y="200.5" width="1" height="6.0"/>
<rect x="660.65" y="202.5" width="3.7" height="4.0"/>
<rect x="665.50" y="191.0" width="1" height="9.0"/>
<rect x="665.50" y="208.0" width="1" height="13.0"/>
<rect x="664.65" y="200.5" width="2.7" height="7.0" fill="#fff" stroke="#000"/>
<rect x="669.00" y="178.0" width="1" height="2.0"/>
<rect x="669.00" y="192.0" width="1" height="9.0"/>
<rect x="668.15" y="180.5" width="2.7" height="11.0" fill="#fff" stroke="#000"/>
<rect x="673.00" y="169.5" width="1" height="0.5"/>
<rect x="673.00" y="178.0" width="1" height="1.0"/>
<rect x="672.15" y="170.5" width="2.7" height="7.0" fill="#fff" stroke="#000"/>
<rect x="675.65" y="172.5" width="2.7" height="7.0" fill="#fff" stroke="#000"/>
<rect x="680.00" y="145.0" width="1" height="4.0"/>
<rect x="680.00" y="174.0" width="1" height="4.0"/>
<rect x="679.15" y="149.5" width="2.7" height="24.0" fill="#fff" stroke="#000"/>
<rect x="683.50" y="146.5" width="1" height="9.0"/>
<rect x="682.15" y="149.0" width="3.7" height="6.5"/>
<rect x="687.50" y="153.5" width="1" height="13.5"/>
<rect x="686.15" y="157.5" width="3.7" height="8.5"/>
<rect x="691.00" y="157.5" width="1" height="3.5"/>
<rect x="691.00" y="166.0" width="1" height="4.0"/>
<rect x="690.15" y="161.5" width="2.7" height="4.0" fill="#fff" stroke="#000"/>
<rect x="694.50" y="152.0" width="1" height="14.0"/>
<rect x="693.15" y="156.0" width="3.7" height="3.0"/>
<rect x="697.65" y="143.5" width="2.7" height="10.0" fill="#fff" stroke="#000"/>
<rect x="702.00" y="134.0" width="1" height="1.0"/>
<rect x="702.00" y="142.0" width="1" height="4.0"/>
<rect x="701.15" y="135.5" width="2.7" height="6.0" fill="#fff" stroke="#000"/>
<rect x="705.50" y="134.0" width="1" height="5.5"/>
<rect x="704.15" y="136.5" width="3.7" height="1.5"/>
<rect x="709.50" y="133.5" width="1" height="7.5"/>
<rect x="708.15" y="136.0" width="3.7" height="2.0"/>
<rect x="713.00" y="101.5" width="1" height="1.5"/>
<rect x="713.00" y="132.0" width="1" height="3.5"/>
<rect x="712.15" y="103.5" width="2.7" height="28.0" fill="#fff" stroke="#000"/>
<rect x="716.50" y="91.5" width="1" height="25.0"/>
<rect x="715.15" y="97.5" width="3.7" height="19.0"/>
<rect x="720.50" y="114.5" width="1" height="15.5"/>
<rect x="719.15" y="116.0" width="3.7" height="10.5"/>
<rect x="724.00" y="126.5" width="1" height="13.0"/>
<rect x="722.65" y="126.5" width="3.7" height="13.0"/>
<rect x="727.50" y="138.0" width="1" height="0.5"/>
<rect x="726.65" y="134.5" width="2.7" height="3.0" fill="#fff" stroke="#000"/>
<rect x="731.50" y="133.5" width="1" height="15.0"/>
<rect x="730.15" y="134.5" width="3.7" height="8.0"/>
<rect x="735.00" y="128.0" width="1" height="2.0"/>
<rect x="734.15" y="130.5" width="2.7" height="7.0" fill="#fff" stroke="#000"/>
<rect x="738.50" y="112.0" width="1" height="14.0"/>
<rect x="737.15" y="118.0" width="3.7" height="3.0"/>
<rect x="742.00" y="113.0" width="1" height="10.5"/>
<rect x="740.65" y="115.0" width="3.7" height="1.5"/>
<rect x="746.00" y="119.0" width="1" height="6.0"/>
<rect x="744.65" y="119.0" width="3.7" height="1.0"/>
<rect x="749.50" y="115.5" width="1" height="8.0"/>
<rect x="748.15" y="120.0" width="3.7" height="3.0"/>
<rect x="753.00" y="115.5" width="1" height="8.0"/>
<rect x="751.65" y="116.5" width="3.7" height="1.5"/>
<rect x="757.00" y="111.0" width="1" height="15.5"/>
<rect x="755.65" y="115.5" width="3.7" height="8.0"/>
<rect x="760.50" y="122.0" width="1" height="7.5"/>
<rect x="759.15" y="125.0" width="3.7" height="2.0"/>
<rect x="764.00" y="125.0" width="1" height="11.0"/>
<rect x="762.65" y="127.0" width="3.7" height="6.0"/>
<rect x="768.00" y="129.0" width="1" height="10.5"/>
<rect x="766.65" y="133.5" width="3.7" height="1.5"/>
<rect x="771.50" y="129.5" width="1" height="0.5"/>
<rect x="770.65" y="130.5" width="2.7" height="4.0" fill="#fff" stroke="#000"/>
<rect x="775.00" y="131.0" width="1" height="10.5"/>
<rect x="773.65" y="131.0" width="3.7" height="8.5"/>
<rect x="779.00" y="131.0" width="1" height="12.0"/>
<rect x="777.65" y="131.0" width="3.7" height="12.0"/>
<rect x="782.50" y="139.0" width="1" height="21.5"/>
<rect x="781.15" y="139.5" width="3.7" height="6.0"/>
<rect x="786.00" y="135.0" width="1" height="7.5"/>
<rect x="784.65" y="141.5" width="3.7" height="1.0"/>
<rect x="790.00" y="138.5" width="1" height="4.5"/>
<rect x="788.65" y="141.5" width="3.7" height="1.0"/>
<rect x="793.50" y="136.0" width="1" height="2.0"/>
<rect x="793.50" y="140.0" width="1" height="18.0"/>
<rect x="792.15" y="138.0" width="3.7" height="2"/>
<rect x="793.15" y="138.5" width="1.7" height="1" fill="#aaa"/>
<rect x="796.15" y="127.5" width="2.7" height="10.0" fill="#fff" stroke="#000"/>
<rect x="801.00" y="109.5" width="1" height="0.5"/>
<rect x="801.00" y="125.0" width="1" height="2.0"/>
<rect x="800.15" y="110.5" width="2.7" height="14.0" fill="#fff" stroke="#000"/>
<rect x="804.50" y="103.5" width="1" height="0.5"/>
<rect x="804.50" y="111.0" width="1" height="4.5"/>
<rect x="803.65" y="104.5" width="2.7" height="6.0" fill="#fff" stroke="#000"/>
<rect x="808.00" y="101.0" width="1" height="24.5"/>
<rect x="806.65" y="103.0" width="3.7" height="19.5"/>
<rect x="811.50" y="117.5" width="1" height="18.0"/>
<rect x="810.15" y="120.0" width="3.7" height="4.5"/>
<rect x="815.50" y="118.0" width="1" height="14.5"/>
<rect x="814.15" y="127.0" width="3.7" height="1.0"/>
<rect x="819.00" y="118.0" width="1" height="13.0"/>
<rect x="817.65" y="121.0" width="3.7" height="2.5"/>
<rect x="822.50" y="122.0" width="1" height="4.0"/>
<rect x="821.65" y="111.5" width="2.7" height="10.0" fill="#fff" stroke="#000"/>
<rect x="826.50" y="98.0" width="1" height="3.0"/>
<rect x="825.65" y="101.5" width="2.7" height="8.0" fill="#fff" stroke="#000"/>
<rect x="830.00" y="94.0" width="1" height="6.0"/>
<rect x="830.00" y="102.0" width="1" height="4.5"/>
<rect x="828.65" y="100.0" width="3.7" height="2"/>
<rect x="829.65" y="100.5" width="1.7" height="1" fill="#aaa"/>
<rect x="833.50" y="101.0" width="1" height="21.5"/>
<rect x="832.15" y="101.0" width="3.7" height="16.0"/>
<rect x="837.50" y="119.0" width="1" height="3.0"/>
<rect x="837.50" y="124.0" width="1" height="8.0"/>
<rect x="836.15" y="122.0" width="3.7" height="2"/>
<rect x="837.15" y="122.5" width="1.7" height="1" fill="#aaa"/>
<rect x="841.00" y="101.0" width="1" height="9.0"/>
<rect x="841.00" y="117.0" width="1" height="3.5"/>
<rect x="840.15" y="110.5" width="2.7" height="6.0" fill="#fff" stroke="#000"/>
<rect x="844.50" y="100.0" width="1" height="4.0"/>
<rect x="843.65" y="104.5" width="2.7" height="5.0" fill="#fff" stroke="#000"/>
<rect x="848.50" y="101.0" width="1" height="15.5"/>
<rect x="847.15" y="104.5" width="3.7" height="12.0"/>
<rect x="852.00" y="110.0" width="1" height="13.0"/>
<rect x="850.65" y="110.0" width="3.7" height="9.5"/>
<rect x="855.50" y="114.0" width="1" height="11.5"/>
<rect x="854.15" y="116.5" width="3.7" height="9.0"/>
<rect x="859.50" y="117.5" width="1" height="0.5"/>
<rect x="859.50" y="124.0" width="1" height="4.0"/>
<rect x="858.65" y="118.5" width="2.7" height="5.0" fill="#fff" stroke="#000"/>
<rect x="863.00" y="107.0" width="1" height="5.0"/>
<rect x="862.15" y="112.5" width="2.7" height="4.0" fill="#fff" stroke="#000"/>
<rect x="866.50" y="111.5" width="1" height="4.0"/>
<rect x="865.15" y="111.5" width="3.7" height="4.0"/>
<rect x="870.50" y="95.5" width="1" height="5.5"/>
<rect x="869.65" y="101.5" width="2.7" height="10.0" fill="#fff" stroke="#000"/>
<rect x="874.00" y="91.0" width="1" height="3.0"/>
<rect x="874.00" y="101.0" width="1" height="8.0"/>
<rect x="873.15" y="94.5" width="2.7" height="6.0" fill="#fff" stroke="#000"/>
<rect x="877.50" y="86.0" width="1" height="29.0"/>
<rect x="876.15" y="90.0" width="3.7" height="25.0"/>
<rect x="881.00" y="105.0" width="1" height="14.0"/>
<rect x="879.65" y="106.5" width="3.7" height="1.0"/>
<rect x="885.00" y="99.0" width="1" height="2.0"/>
<rect x="885.00" y="104.0" width="1" height="8.5"/>
<rect x="884.15" y="101.5" width="2.7" height="2.0" fill="#fff" stroke="#000"/>
<rect x="888.50" y="87.0" width="1" height="17.5"/>
<rect x="887.15" y="98.0" width="3.7" height="1.0"/>
<rect x="892.00" y="90.5" width="1" height="1.5"/>
<rect x="892.00" y="94.0" width="1" height="18.0"/>
<rect x="890.65" y="92.0" width="3.7" height="2"/>
<rect x="891.65" y="92.5" width="1.7" height="1" fill="#aaa"/>
<rect x="896.00" y="78.0" width="1" height="30.5"/>
<rect x="894.65" y="91.5" width="3.7" height="12.0"/>
<rect x="898.65" y="70.5" width="2.7" height="31.0" fill="#fff" stroke="#000"/>
<rect x="903.00" y="54.0" width="1" height="8.0"/>
<rect x="903.00" y="66.0" width="1" height="4.5"/>
<rect x="902.15" y="62.5" width="2.7" height="3.0" fill="#fff" stroke="#000"/>
<rect x="907.00" y="60.0" width="1" height="12.0"/>
<rect x="905.65" y="62.5" width="3.7" height="2.0"/>
</g>
<rect x="12.5" y="6.5" width="999" height="508" fill="none" stroke="#eff1f3" stroke-width="1"/>
<rect x="950.5" y="11.5" width="54.5" height="31.5" rx="4" fill="#fff" stroke="#eceef1" stroke-width="1"/>
<text x="962.0" y="32.3" font-size="14.2" textLength="23.5" lengthAdjust="spacingAndGlyphs">JPY</text>
<text x="956.3" y="64.8" font-size="14.2" textLength="38.2" lengthAdjust="spacingAndGlyphs">2,300</text>
<text x="956.3" y="105.4" font-size="14.2" textLength="38.2" lengthAdjust="spacingAndGlyphs">2,200</text>
<text x="956.3" y="146.0" font-size="14.2" textLength="38.2" lengthAdjust="spacingAndGlyphs">2,100</text>
<text x="956.3" y="186.6" font-size="14.2" textLength="38.2" lengthAdjust="spacingAndGlyphs">2,000</text>
<text x="956.3" y="227.2" font-size="14.2" textLength="38.2" lengthAdjust="spacingAndGlyphs">1,900</text>
<text x="956.3" y="267.8" font-size="14.2" textLength="38.2" lengthAdjust="spacingAndGlyphs">1,800</text>
<text x="956.3" y="308.4" font-size="14.2" textLength="38.2" lengthAdjust="spacingAndGlyphs">1,700</text>
<text x="956.3" y="349.0" font-size="14.2" textLength="38.2" lengthAdjust="spacingAndGlyphs">1,600</text>
<text x="956.3" y="389.6" font-size="14.2" textLength="38.2" lengthAdjust="spacingAndGlyphs">1,500</text>
<text x="956.3" y="430.2" font-size="14.2" textLength="38.2" lengthAdjust="spacingAndGlyphs">1,400</text>
<text x="956.3" y="470.8" font-size="14.2" textLength="38.2" lengthAdjust="spacingAndGlyphs">1,300</text>
<text x="55.1" y="502.3" font-size="14.2" textLength="15.2" lengthAdjust="spacingAndGlyphs">12</text>
<text x="70.2" y="502.3" font-size="14.5" textLength="14.5" lengthAdjust="spacingAndGlyphs">月</text>
<text x="145.9" y="502.3" font-size="14.2" textLength="34.0" lengthAdjust="spacingAndGlyphs" font-weight="bold" text-anchor="middle">2025</text>
<text x="204.3" y="502.3" font-size="14.2" textLength="7.6" lengthAdjust="spacingAndGlyphs">2</text>
<text x="211.9" y="502.3" font-size="14.5" textLength="14.5" lengthAdjust="spacingAndGlyphs">月</text>
<text x="270.8" y="502.3" font-size="14.2" textLength="7.6" lengthAdjust="spacingAndGlyphs">3</text>
<text x="278.4" y="502.3" font-size="14.5" textLength="14.5" lengthAdjust="spacingAndGlyphs">月</text>
<text x="343.4" y="502.3" font-size="14.2" textLength="7.6" lengthAdjust="spacingAndGlyphs">4</text>
<text x="351.1" y="502.3" font-size="14.5" textLength="14.5" lengthAdjust="spacingAndGlyphs">月</text>
<text x="420.5" y="502.3" font-size="14.2" textLength="7.6" lengthAdjust="spacingAndGlyphs">5</text>
<text x="428.1" y="502.3" font-size="14.5" textLength="14.5" lengthAdjust="spacingAndGlyphs">月</text>
<text x="493.8" y="502.3" font-size="14.2" textLength="7.6" lengthAdjust="spacingAndGlyphs">6</text>
<text x="501.4" y="502.3" font-size="14.5" textLength="14.5" lengthAdjust="spacingAndGlyphs">月</text>
<text x="569.8" y="502.3" font-size="14.2" textLength="7.6" lengthAdjust="spacingAndGlyphs">7</text>
<text x="577.4" y="502.3" font-size="14.5" textLength="14.5" lengthAdjust="spacingAndGlyphs">月</text>
<text x="650.7" y="502.3" font-size="14.2" textLength="7.6" lengthAdjust="spacingAndGlyphs">8</text>
<text x="658.3" y="502.3" font-size="14.5" textLength="14.5" lengthAdjust="spacingAndGlyphs">月</text>
<text x="723.5" y="502.3" font-size="14.2" textLength="7.6" lengthAdjust="spacingAndGlyphs">9</text>
<text x="731.1" y="502.3" font-size="14.5" textLength="14.5" lengthAdjust="spacingAndGlyphs">月</text>
<text x="793.1" y="502.3" font-size="14.2" textLength="15.2" lengthAdjust="spacingAndGlyphs">10</text>
<text x="808.4" y="502.3" font-size="14.5" textLength="14.5" lengthAdjust="spacingAndGlyphs">月</text>
<text x="872.9" y="502.3" font-size="14.2" textLength="15.2" lengthAdjust="spacingAndGlyphs">11</text>
<text x="888.1" y="502.3" font-size="14.5" textLength="14.5" lengthAdjust="spacingAndGlyphs">月</text>
<text x="24.6" y="31.0" font-size="14.5" textLength="73.0" lengthAdjust="spacingAndGlyphs">ミヨシ油脂</text>
<text x="103.5" y="31.0" font-size="14.2" textLength="6.0" lengthAdjust="spacingAndGlyphs">·</text>
<text x="113.5" y="31.0" font-size="14.2" textLength="7.6" lengthAdjust="spacingAndGlyphs">1</text>
<text x="121.1" y="31.0" font-size="14.5" textLength="14.5" lengthAdjust="spacingAndGlyphs">日</text>
<text x="141.0" y="31.0" font-size="14.2" textLength="6.0" lengthAdjust="spacingAndGlyphs">·</text>
<text x="151.8" y="31.0" font-size="14.2" textLength="23.5" lengthAdjust="spacingAndGlyphs">TSE</text>
<text x="185.5" y="31.0" font-size="14.5" textLength="29.5" lengthAdjust="spacingAndGlyphs">始値</text>
<text x="215.2" y="31.0" font-size="14.2" textLength="36.3" lengthAdjust="spacingAndGlyphs">2,296</text>
<text x="262.0" y="31.0" font-size="14.5" textLength="29.5" lengthAdjust="spacingAndGlyphs">高値</text>
<text x="291.7" y="31.0" font-size="14.2" textLength="36.3" lengthAdjust="spacingAndGlyphs">2,301</text>
<text x="338.3" y="31.0" font-size="14.5" textLength="29.5" lengthAdjust="spacingAndGlyphs">安値</text>
<text x="368.0" y="31.0" font-size="14.2" textLength="36.3" lengthAdjust="spacingAndGlyphs">2,270</text>
<text x="415.2" y="31.0" font-size="14.5" textLength="29.5" lengthAdjust="spacingAndGlyphs">終値</text>
<text x="444.9" y="31.0" font-size="14.2" textLength="36.3" lengthAdjust="spacingAndGlyphs">2,291</text>
<text x="491.8" y="31.0" font-size="14.2" textLength="15.6" lengthAdjust="spacingAndGlyphs">−5</text>
<text x="512.6" y="31.0" font-size="14.2" textLength="57.0" lengthAdjust="spacingAndGlyphs">(−0.22%)</text>
<text x="23.6" y="52.6" font-size="14.5" textLength="44.0" lengthAdjust="spacingAndGlyphs">出来高</text>
<text x="78" y="52.6" font-size="14.2" textLength="28.5" lengthAdjust="spacingAndGlyphs" style="fill:#000;stroke:#000;stroke-width:.5px">57.2</text>
<text x="109.3" y="52.6" font-size="14.2" textLength="9" lengthAdjust="spacingAndGlyphs" style="fill:#000;stroke:#000;stroke-width:.5px">K</text>
<text x="22.8" y="74.4" font-size="14.2" textLength="114.0" lengthAdjust="spacingAndGlyphs">MA (25, close, 0)</text>
<text x="146.2" y="74.4" font-size="14.2" textLength="36.8" lengthAdjust="spacingAndGlyphs" style="fill:#4dd0e1;stroke:#4dd0e1">2,192</text>
<text x="22.8" y="96.0" font-size="14.2" textLength="114.0" lengthAdjust="spacingAndGlyphs">MA (75, close, 0)</text>
<text x="146.2" y="96.0" font-size="14.2" textLength="36.8" lengthAdjust="spacingAndGlyphs" style="fill:#b39ddb;stroke:#b39ddb">2,119</text>
<g transform="translate(15.66,537.87) scale(1.033)" fill="#141414"><path d="M14 22H7V11H0V4h14v18z"/><path d="M28 22h-8l7.5-18h8L28 22z"/><circle cx="20" cy="8" r="4"/></g>
<text x="62.2" y="560.2" font-size="24.5" font-weight="bold" textLength="153" lengthAdjust="spacingAndGlyphs" style="fill:#141414;stroke:none">TradingView</text>
</svg></body></html>
